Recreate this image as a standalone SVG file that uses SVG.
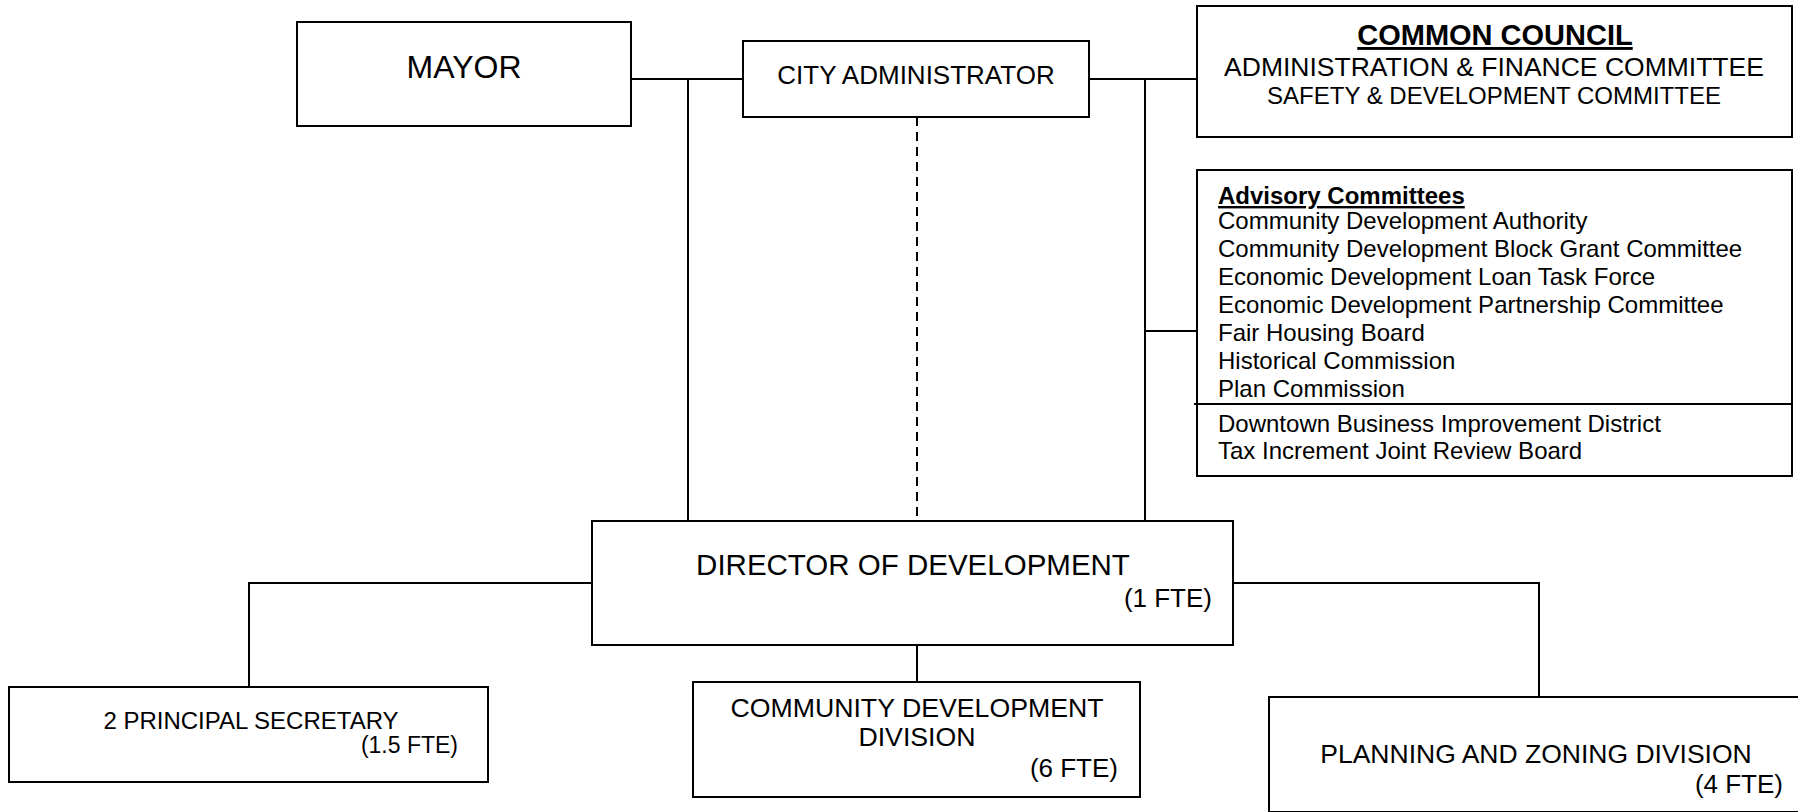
<svg xmlns="http://www.w3.org/2000/svg" width="1798" height="812" viewBox="0 0 1798 812">
<style>
.box{fill:#fff;stroke:#000;stroke-width:2}
.ln{fill:none;stroke:#000;stroke-width:2}
.dash{fill:none;stroke:#000;stroke-width:2;stroke-dasharray:9 6}
text{font-family:"Liberation Sans",Arial,sans-serif;fill:#000}
.c{text-anchor:middle}
.r{text-anchor:end}
.b{font-weight:bold;text-decoration:underline}
.li{font-size:24px}
</style>
<rect width="1798" height="812" fill="#fff"/>
<g id="connectors">
<path class="ln" d="M631 79H743"/>
<path class="ln" d="M688 79V521"/>
<path class="ln" d="M1089 79H1197"/>
<path class="ln" d="M1145 79V521"/>
<path class="ln" d="M1145 331H1197"/>
<path class="dash" d="M917 117V521"/>
<path class="ln" d="M592 583H249V687"/>
<path class="ln" d="M917 645V682"/>
<path class="ln" d="M1233 583H1539V697"/>
</g>
<g id="mayor">
<rect class="box" x="297" y="22" width="334" height="104"/>
<text class="c" x="464" y="78" font-size="32">MAYOR</text>
</g>
<g id="city-administrator">
<rect class="box" x="743" y="41" width="346" height="76"/>
<text class="c" x="916" y="84" font-size="26">CITY ADMINISTRATOR</text>
</g>
<g id="common-council">
<rect class="box" x="1197" y="6" width="595" height="131"/>
<text class="c b" x="1495" y="45" font-size="29">COMMON COUNCIL</text>
<text class="c" x="1494" y="76" font-size="26.5">ADMINISTRATION &amp; FINANCE COMMITTEE</text>
<text class="c" x="1494" y="104" font-size="24">SAFETY &amp; DEVELOPMENT COMMITTEE</text>
</g>
<g id="advisory-committees">
<rect class="box" x="1197" y="170" width="595" height="306"/>
<path class="ln" d="M1194 404H1792"/>
<text class="b" x="1218" y="204" font-size="24">Advisory Committees</text>
<text class="li" x="1218" y="229">Community Development Authority</text>
<text class="li" x="1218" y="257">Community Development Block Grant Committee</text>
<text class="li" x="1218" y="285">Economic Development Loan Task Force</text>
<text class="li" x="1218" y="313">Economic Development Partnership Committee</text>
<text class="li" x="1218" y="341">Fair Housing Board</text>
<text class="li" x="1218" y="369">Historical Commission</text>
<text class="li" x="1218" y="397">Plan Commission</text>
<text class="li" x="1218" y="432">Downtown Business Improvement District</text>
<text class="li" x="1218" y="459">Tax Increment Joint Review Board</text>
</g>
<g id="director">
<rect class="box" x="592" y="521" width="641" height="124"/>
<text class="c" x="913" y="575" font-size="29.5">DIRECTOR OF DEVELOPMENT</text>
<text class="r" x="1212" y="607" font-size="26">(1 FTE)</text>
</g>
<g id="principal-secretary">
<rect class="box" x="9" y="687" width="479" height="95"/>
<text class="c" x="251" y="729" font-size="24">2 PRINCIPAL SECRETARY</text>
<text class="r" x="458" y="753" font-size="23">(1.5 FTE)</text>
</g>
<g id="community-development">
<rect class="box" x="693" y="682" width="447" height="115"/>
<text class="c" x="917" y="717" font-size="26.7">COMMUNITY DEVELOPMENT</text>
<text class="c" x="917" y="746" font-size="26.7">DIVISION</text>
<text class="r" x="1118" y="777" font-size="26">(6 FTE)</text>
</g>
<g id="planning-zoning">
<rect class="box" x="1269" y="697" width="540" height="115"/>
<text class="c" x="1536" y="763" font-size="26.5">PLANNING AND ZONING DIVISION</text>
<text class="r" x="1783" y="793" font-size="26">(4 FTE)</text>
</g>
</svg>
